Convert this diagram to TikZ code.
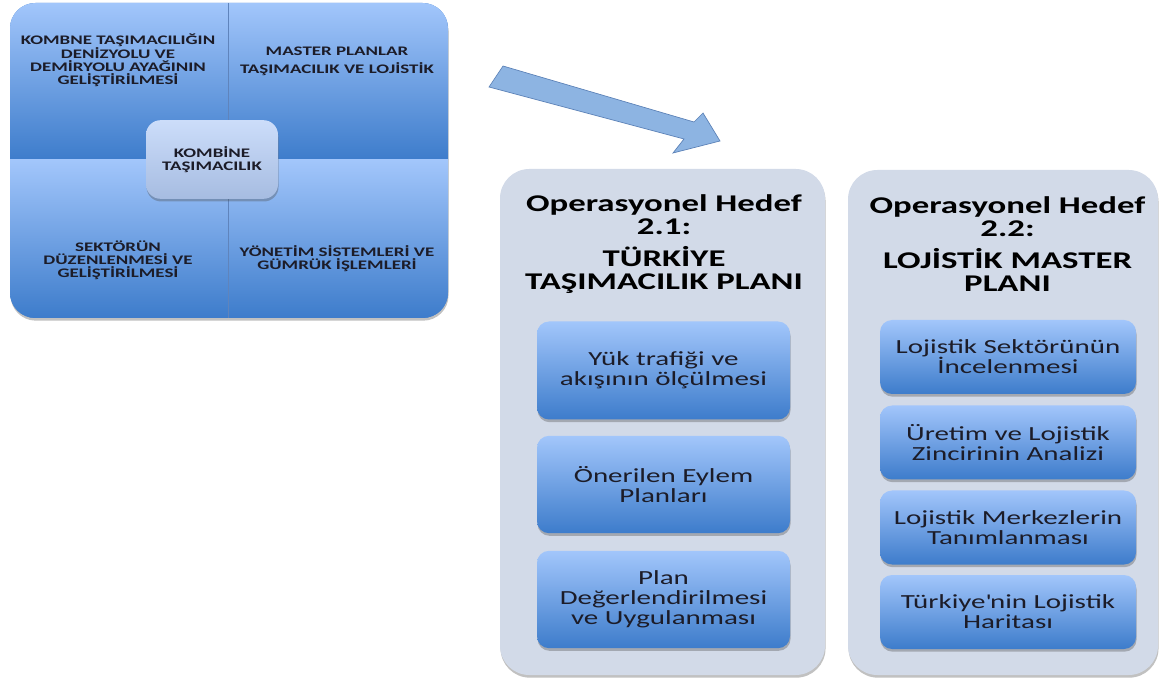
\documentclass[tikz,border=0pt]{standalone}
\usepackage{fontspec}
\setmainfont{Carlito}[FakeStretch=1.45]
\usetikzlibrary{shadows}

\definecolor{qtop}{HTML}{A2C6FB}
\definecolor{qbot}{HTML}{3D7CCB}
\definecolor{panelfill}{HTML}{D2DAE8}
\definecolor{ctop}{HTML}{CCDDFA}
\definecolor{cbot}{HTML}{A6BCE1}
\definecolor{arrowfill}{HTML}{8DB4E2}
\definecolor{arrowline}{HTML}{5A80B6}
\definecolor{divline}{HTML}{5F84BC}
\definecolor{txt}{HTML}{1C1C28}

\tikzset{
  softshadow/.style={drop shadow={shadow xshift=0.4pt, shadow yshift=-2pt, opacity=0.35, fill=black!70}},
  quadtext/.style={inner sep=0pt, align=center, text=txt,
    font=\fontsize{9.8}{9.6}\selectfont\bfseries},
  hubbox/.style={rounded corners=11pt, top color=ctop, bottom color=cbot,
    draw=none, softshadow, minimum width=99pt, minimum height=59pt,
    inner sep=0pt, align=center, text=txt,
    font=\fontsize{9.8}{9.6}\selectfont\bfseries},
  panelbox/.style={rounded corners=22pt, fill=panelfill, draw=none, softshadow, inner sep=0pt},
  titletext/.style={inner sep=0pt, align=center, text=black,
    font=\fontsize{18}{17}\selectfont\bfseries},
  taskbox/.style={rounded corners=9pt, top color=qtop, bottom color=qbot,
    draw=none, softshadow, inner sep=0pt, align=center, text=txt,
    font=\fontsize{15}{15}\selectfont},
  blockarrow/.style={fill=arrowfill, draw=arrowline, line width=0.5pt, line join=miter}
}

\begin{document}
\begin{tikzpicture}[x=0.75pt,y=-0.75pt]
\useasboundingbox (0,0) rectangle (1160,680);

% four-part block with the hub in the middle
\path[rounded corners=19pt, fill=qbot, softshadow] (10,3) rectangle (448,318);
\begin{scope}
  \clip[rounded corners=19pt] (10,3) rectangle (448,318);
  \shade[top color=qtop, bottom color=qbot] (10,3) rectangle (228,160);
  \shade[top color=qtop, bottom color=qbot] (228,3) rectangle (448,160);
  \shade[top color=qtop, bottom color=qbot] (10,160) rectangle (228,318);
  \shade[top color=qtop, bottom color=qbot] (228,160) rectangle (448,318);
  \draw[divline, line width=0.6pt] (228,3) -- (228,318);
\end{scope}

\node[quadtext] (qtl) at (118,60) {KOMBNE TAŞIMACILIĞIN\\DENİZYOLU VE\\DEMİRYOLU AYAĞININ\\GELİŞTİRİLMESİ};
\node[quadtext, font=\fontsize{9.8}{13.5}\selectfont\bfseries] (qtr) at (337,61) {MASTER PLANLAR\\TAŞIMACILIK VE LOJİSTİK};
\node[quadtext] (qbl) at (118,260) {SEKTÖRÜN\\DÜZENLENMESİ VE\\GELİŞTİRİLMESİ};
\node[quadtext] (qbr) at (337,259) {YÖNETİM SİSTEMLERİ VE\\GÜMRÜK İŞLEMLERİ};

\node[hubbox] (hub) at (212,159.5) {KOMBİNE\\TAŞIMACILIK};

% block arrow pointing to the plans
\coordinate (at1) at (503,66);
\coordinate (as1) at (694,122);
\coordinate (ab1) at (703,113);
\coordinate (tip) at (720,141);
\coordinate (ab2) at (673,153);
\coordinate (as2) at (684,139);
\coordinate (at2) at (489,87);
\draw[blockarrow] (at1) -- (as1) -- (ab1) -- (tip) -- (ab2) -- (as2) -- (at2) -- cycle;

% operational goal 2.1
\node[panelbox, minimum width=243.75pt, minimum height=379.5pt] (p1) at (662.5,422) {};
\node[titletext] (t1) at (664,244) {Operasyonel Hedef\\2.1:\\[7pt]TÜRKİYE\\TAŞIMACILIK PLANI};
\node[taskbox, minimum width=189.75pt, minimum height=73.5pt] (a1) at (663.5,370.5) {Yük trafiği ve\\akışının ölçülmesi};
\node[taskbox, minimum width=189.75pt, minimum height=73pt] (a2) at (663.5,484.5) {Önerilen Eylem\\Planları};
\node[taskbox, minimum width=189.75pt, minimum height=73pt] (a3) at (663.5,599.5) {Plan\\Değerlendirilmesi\\ve Uygulanması};

% operational goal 2.2
\node[panelbox, minimum width=232.5pt, minimum height=378.75pt] (p2) at (1003,422.5) {};
\node[titletext] (t2) at (1007.5,244) {Operasyonel Hedef\\2.2:\\[7pt]LOJİSTİK MASTER\\PLANI};
\node[taskbox, minimum width=192pt, minimum height=55.5pt] (b1) at (1008,357) {Lojistik Sektörünün\\İncelenmesi};
\node[taskbox, minimum width=192pt, minimum height=55.5pt] (b2) at (1008,442.5) {Üretim ve Lojistik\\Zincirinin Analizi};
\node[taskbox, minimum width=192pt, minimum height=55.5pt] (b3) at (1008,527.5) {Lojistik Merkezlerin\\Tanımlanması};
\node[taskbox, minimum width=192pt, minimum height=55.5pt] (b4) at (1008,612) {Türkiye\textquotesingle nin Lojistik\\Haritası};
\end{tikzpicture}
\end{document}
